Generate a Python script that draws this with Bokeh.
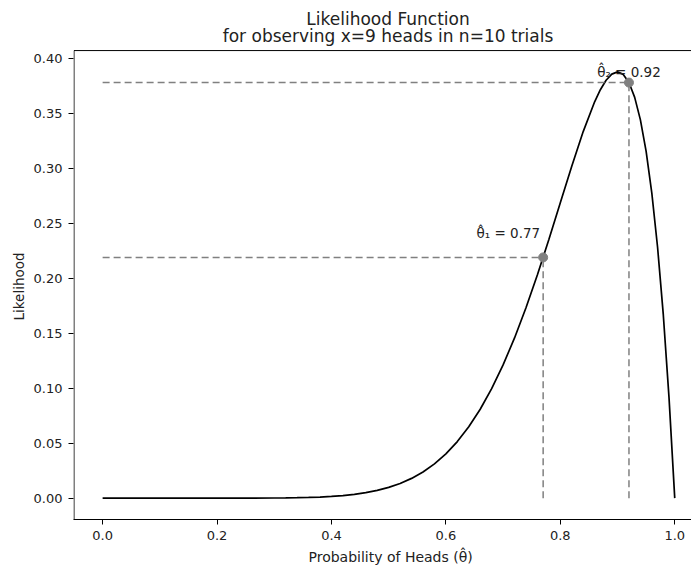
from bokeh.plotting import figure
from bokeh.models import Range1d, FixedTicker, Label, Title
from bokeh.embed import file_html
from bokeh.resources import INLINE

# ---- data ----
theta = [0.00, 0.10, 0.20, 0.25, 0.30, 0.32, 0.34, 0.36, 0.38, 0.40, 0.42, 0.44, 0.46,
         0.48, 0.50, 0.52, 0.54, 0.56, 0.58, 0.60, 0.62, 0.64, 0.66, 0.68, 0.70, 0.72,
         0.74, 0.76, 0.78, 0.80, 0.82, 0.84, 0.86, 0.87, 0.88, 0.89, 0.90, 0.91, 0.92,
         0.93, 0.94, 0.95, 0.96, 0.97, 0.98, 0.99, 1.00]
likelihood = [0.0, 0.0, 0.000004, 0.00003, 0.00014, 0.00024, 0.00040, 0.00065, 0.00102,
              0.00157, 0.00236, 0.00346, 0.00498, 0.00703, 0.00977, 0.01334, 0.01796,
              0.02383, 0.03120, 0.04031, 0.05144, 0.06485, 0.08079, 0.09948, 0.12106,
              0.14560, 0.17300, 0.20302, 0.23511, 0.26844, 0.30172, 0.33315, 0.36026,
              0.37122, 0.37978, 0.38539, 0.38742, 0.38514, 0.37773, 0.36429, 0.34380,
              0.31512, 0.27702, 0.22807, 0.16675, 0.09135, 0.0]

estimates = [0.77, 0.92]
est_likelihood = [0.2188, 0.3777]
est_labels = ["θ̂₁ = 0.77", "θ̂₂ = 0.92"]

x_ticks = [0.0, 0.2, 0.4, 0.6, 0.8, 1.0]
x_tick_labels = ["0.0", "0.2", "0.4", "0.6", "0.8", "1.0"]
y_ticks = [0.00, 0.05, 0.10, 0.15, 0.20, 0.25, 0.30, 0.35, 0.40]
y_tick_labels = ["0.00", "0.05", "0.10", "0.15", "0.20", "0.25", "0.30", "0.35", "0.40"]

title_lines = ["Likelihood Function", "for observing x=9 heads in n=10 trials"]
x_label = "Probability of Heads (θ̂)"
y_label = "Likelihood"

# axes box limits (matplotlib-style 5% margins); the plotting area extends
# above the box so that the two-line title can sit inside it
box_x = (-0.05, 1.05)
box_y = (-0.0194, 0.4068)

FONT = "DejaVu Sans"
TXT = "#222222"

p = figure(width=691, height=571, output_backend="svg", toolbar_location=None,
           x_range=Range1d(-0.0509, 1.0293), y_range=Range1d(-0.0194, 0.4523),
           min_border_left=73, min_border_right=0, min_border_top=0, min_border_bottom=52)
p.outline_line_color = None
p.xgrid.visible = False
p.ygrid.visible = False
p.background_fill_color = "white"
p.border_fill_color = "white"

for ax in (p.xaxis[0], p.yaxis[0]):
    ax.axis_line_color = "black"
    ax.axis_line_width = 1
    ax.major_tick_line_color = "black"
    ax.major_tick_out = 5
    ax.major_tick_in = 0
    ax.minor_tick_line_color = None
    ax.major_label_text_font = FONT
    ax.major_label_text_font_size = "13px"
    ax.major_label_text_color = TXT

p.yaxis.axis_line_color = None  # spine drawn below, limited to the box

p.xaxis.ticker = FixedTicker(ticks=x_ticks)
p.xaxis.major_label_overrides = {t: s for t, s in zip(x_ticks, x_tick_labels)}
p.xaxis.major_label_standoff = 6
p.yaxis.ticker = FixedTicker(ticks=y_ticks)
p.yaxis.major_label_overrides = {t: s for t, s in zip(y_ticks, y_tick_labels)}
p.yaxis.major_label_standoff = 6

# axis titles as Title panels (centred on the full axes box)
p.add_layout(Title(text=x_label, align="left", offset=235, standoff=9,
                   text_font=FONT, text_font_size="14px", text_font_style="normal",
                   text_color=TXT), "below")
p.add_layout(Title(text=y_label, align="left", offset=199, standoff=8,
                   text_font=FONT, text_font_size="13.5px", text_font_style="normal",
                   text_color=TXT), "left")

# spines of the axes box
p.segment(x0=[box_x[0], box_x[0]], y0=[box_y[0], box_y[1]],
          x1=[box_x[0], box_x[1]], y1=[box_y[1], box_y[1]],
          line_color="black", line_width=1)

# curve
p.line(theta, likelihood, line_color="black", line_width=1.7)

# dashed guides
n = len(estimates)
p.segment(x0=[0.0] * n, y0=est_likelihood, x1=estimates, y1=est_likelihood,
          line_color="gray", line_width=1.5, line_dash="7 4")
p.segment(x0=estimates, y0=[0.0] * n, x1=estimates, y1=est_likelihood,
          line_color="gray", line_width=1.5, line_dash="7 4")

# points
p.scatter(estimates, est_likelihood, size=9, fill_color="gray", line_color="gray")

# annotations
p.add_layout(Label(x=estimates[0], y=est_likelihood[0], x_offset=-3, y_offset=24,
                   text=est_labels[0], text_align="right", text_baseline="alphabetic",
                   text_font=FONT, text_font_size="13.5px", text_color=TXT))
p.add_layout(Label(x=estimates[1], y=est_likelihood[1], x_offset=0, y_offset=11,
                   text=est_labels[1], text_align="center", text_baseline="alphabetic",
                   text_font=FONT, text_font_size="13.5px", text_color=TXT))

# two-line title, centred over the axes box (screen units from plot-area bottom-left)
p.add_layout(Label(x=314.5, y=500.5, x_units="screen", y_units="screen", text=title_lines[0],
                   text_align="center", text_baseline="alphabetic",
                   text_font=FONT, text_font_size="17px", text_color=TXT))
p.add_layout(Label(x=314.5, y=483.5, x_units="screen", y_units="screen", text=title_lines[1],
                   text_align="center", text_baseline="alphabetic",
                   text_font=FONT, text_font_size="17px", text_color=TXT))

open("out.html", "w").write(file_html(p, INLINE))
